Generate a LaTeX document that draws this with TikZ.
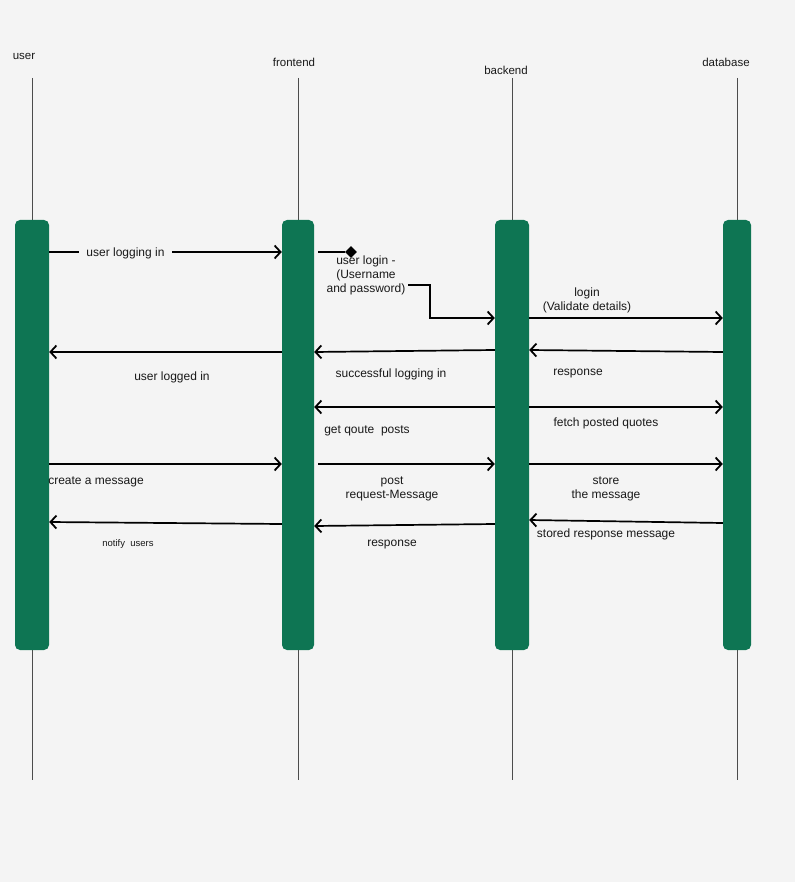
\documentclass[tikz,border=0pt]{standalone}
\usepackage{fontspec}
\setmainfont{Liberation Sans}
\usetikzlibrary{arrows.meta,shapes.geometric}
\definecolor{bg}{HTML}{F4F4F4}
\definecolor{barg}{HTML}{0E7553}
\begin{document}
\begin{tikzpicture}[x=1pt,y=-1pt,
  bar/.style={fill=barg,draw=none,rounded corners=5pt,minimum width=#1,minimum height=430pt,inner sep=0pt},
  life/.style={draw=black!70,line width=0.7pt},
  msg/.style={line width=1.7pt,-{Straight Barb[length=6pt,width=13pt,line width=1.8pt]}},
  plain/.style={line width=1.7pt},
  lbl/.style={font=\fontsize{12}{14}\selectfont,align=center,inner sep=1pt,text=black!90},
  head/.style={font=\fontsize{11.5}{14}\selectfont,inner sep=1pt,text=black!90}]
\useasboundingbox[fill=bg] (0,0) rectangle (795,882);

% headers
\node[head] (hu) at (24,56) {user};
\node[head] (hf) at (294,62) {frontend};
\node[head] (hb) at (506,70) {backend};
\node[head] (hd) at (726,62) {database};

% lifelines
\coordinate (ut) at (32,78);  \coordinate (ub) at (32,780);
\coordinate (ft) at (298,78); \coordinate (fb) at (298,780);
\coordinate (bt) at (512,78); \coordinate (bb) at (512,780);
\coordinate (dt) at (737,78); \coordinate (db) at (737,780);
\draw[life] (ut) -- (ub);
\draw[life] (ft) -- (fb);
\draw[life] (bt) -- (bb);
\draw[life] (dt) -- (db);

% activation bars
\node[bar=34pt] (U) at (32,435) {};
\node[bar=32pt] (F) at (298,435) {};
\node[bar=34pt] (B) at (512,435) {};
\node[bar=28pt] (D) at (737,435) {};

% 1 user logging in
\draw[msg] (U.east |- 0,252) -- (F.west |- 0,252);
\node[lbl,fill=bg,inner xsep=7pt] (m1) at (125.5,253) {user logging in};

% 2 user login (Username and password)
\coordinate (s2) at (318,252);
\node[diamond,fill=black,minimum size=12pt,inner sep=0pt] (dm) at (351,252) {};
\draw[plain] (s2) -- (dm.west);
\node[lbl] (m2) at (366,275) {user login -\\(Username\\and password)};
\coordinate (e2) at (408,285);
\draw[msg] (e2) -- ++(22,0) |- (B.west |- 0,318);

% 3 login validate
\draw[msg] (B.east |- 0,318) -- (D.west |- 0,318);
\node[lbl] (m3) at (587,300) {login\\(Validate details)};

% 4 user logged in
\draw[msg] (F.west |- 0,352) -- (U.east |- 0,352);
\node[lbl] (m4) at (172,377) {user logged in};

% 5 successful logging in
\draw[msg] (B.west |- 0,350) -- (F.east |- 0,352);
\node[lbl] (m5) at (391,374) {successful logging in};

% 6 response
\draw[msg] (D.west |- 0,352) -- (B.east |- 0,350);
\node[lbl] (m6) at (578,374) {response};

% 7 get qoute posts
\draw[msg] (B.west |- 0,407) -- (F.east |- 0,407);
\node[lbl] (m7) at (367,431) {get qoute\ \ posts};

% 8 fetch posted quotes
\draw[msg] (B.east |- 0,407) -- (D.west |- 0,407);
\node[lbl] (m8) at (606,423) {fetch posted quotes};

% 9 create a message
\draw[msg] (U.east |- 0,464) -- (F.west |- 0,464);
\node[lbl] (m9) at (96,482) {create a message};

% 10 post request-Message
\coordinate (s10) at (318,464);
\draw[msg] (s10) -- (B.west |- 0,464);
\node[lbl] (m10) at (392,489) {post\\request-Message};

% 11 store the message
\draw[msg] (B.east |- 0,464) -- (D.west |- 0,464);
\node[lbl] (m11) at (606,489) {store\\the message};

% 12 notify users
\draw[msg] (F.west |- 0,524) -- (U.east |- 0,522);
\node[lbl,font=\fontsize{9.5}{12}\selectfont] (m12) at (128,544) {notify\ \ users};

% 13 response
\draw[msg] (B.west |- 0,524) -- (F.east |- 0,526);
\node[lbl] (m13) at (392,545) {response};

% 14 stored response message
\draw[msg] (D.west |- 0,523) -- (B.east |- 0,520);
\node[lbl] (m14) at (606,534) {stored response message};
\end{tikzpicture}
\end{document}
